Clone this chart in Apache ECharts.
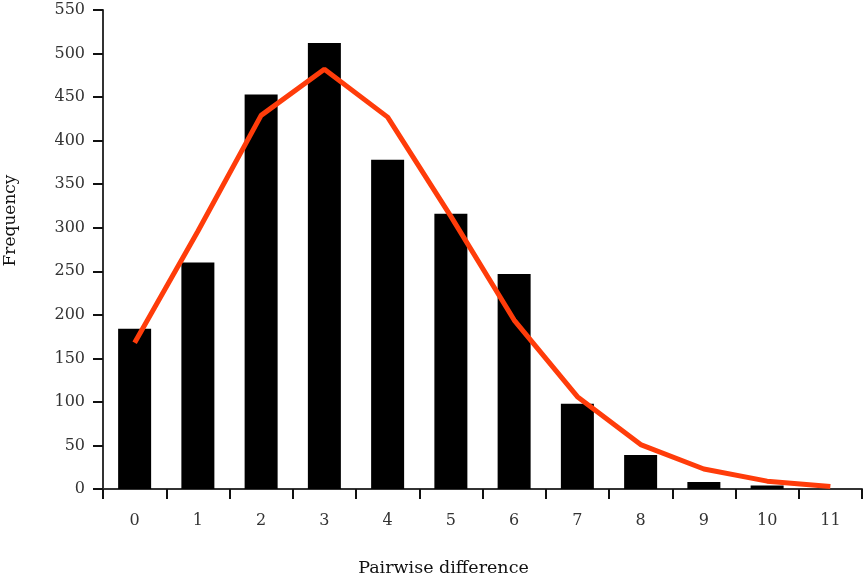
<!DOCTYPE html>
<html>
<head>
<meta charset="utf-8">
<script src="https://cdn.jsdelivr.net/npm/echarts@6/dist/echarts.min.js"></script>
<style>
  html, body { margin: 0; padding: 0; background: #fff; }
  #chart { width: 867px; height: 581px; }
</style>
</head>
<body>
<div id="chart"></div>
<script>
// Pairwise difference distribution: observed counts (bars) and expected curve (line)
const categories = ['0', '1', '2', '3', '4', '5', '6', '7', '8', '9', '10', '11'];
const observed = [184, 260, 453, 512, 378, 316, 247, 98, 39, 8, 4, 0];
const expected = [168, 296, 429, 482, 427, 313, 194, 106, 51, 23, 9, 3];

const font = '"DejaVu Serif", "Liberation Serif", serif';

const chart = echarts.init(document.getElementById('chart'));
chart.setOption({
  animation: false,
  grid: {
    left: 103, right: 5, top: 10, bottom: 92,
    containLabel: false,
    outerBoundsMode: 'none'
  },
  xAxis: {
    type: 'category',
    data: categories,
    boundaryGap: true,
    name: 'Pairwise difference',
    nameLocation: 'middle',
    nameGap: 70,
    nameTextStyle: { fontFamily: font, fontSize: 17.5, color: '#111', padding: [0, 78, 0, 0] },
    axisLine: { lineStyle: { color: '#333', width: 2 } },
    axisTick: { show: true, alignWithLabel: false, interval: 0, length: 10, lineStyle: { color: '#111', width: 2 } },
    axisLabel: { fontFamily: font, fontSize: 16, color: '#333', margin: 24, interval: 0 },
    splitLine: { show: false }
  },
  yAxis: {
    type: 'value',
    min: 0,
    max: 550,
    interval: 50,
    name: 'Frequency',
    nameLocation: 'middle',
    nameGap: 84,
    nameRotate: 90,
    nameTextStyle: { fontFamily: font, fontSize: 17, color: '#111', padding: [0, 0, 0, 58] },
    axisLine: { show: true, lineStyle: { color: '#333', width: 2 } },
    axisTick: { show: true, length: 10, lineStyle: { color: '#111', width: 2 } },
    axisLabel: { fontFamily: font, fontSize: 16, color: '#333', margin: 18 },
    splitLine: { show: false }
  },
  series: [
    {
      type: 'bar',
      data: observed,
      barWidth: 33,
      itemStyle: { color: '#000' }
    },
    {
      type: 'line',
      data: expected,
      symbol: 'none',
      smooth: false,
      lineStyle: { color: '#ff3c0a', width: 5 },
      z: 5
    }
  ]
});
</script>
</body>
</html>
